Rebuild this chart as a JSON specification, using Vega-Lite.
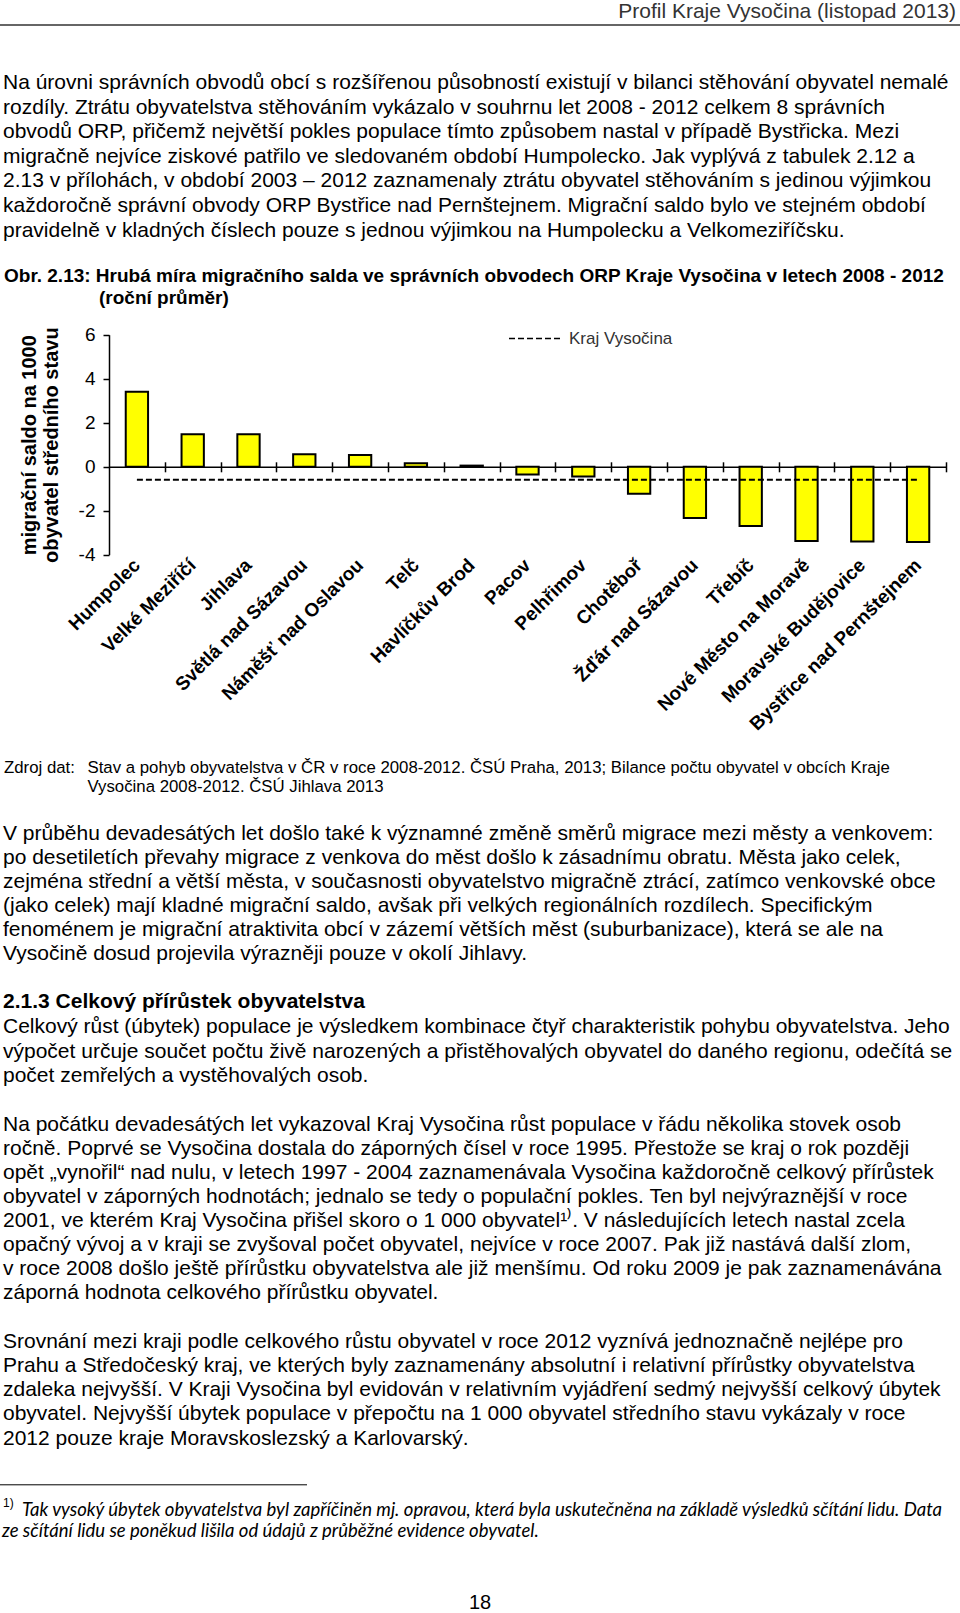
{
  "$schema": "https://vega.github.io/schema/vega-lite/v6.json",
  "width": 960,
  "height": 1613,
  "autosize": "none",
  "padding": 0,
  "background": "white",
  "config": {
    "view": {"stroke": null},
    "font": "Liberation Sans",
    "axis": {"grid": false}
  },
  "datasets": {
    "bars": [
      {"name": "Humpolec", "value": 3.41, "kraj": -0.59},
      {"name": "Velké Meziříčí", "value": 1.48, "kraj": -0.59},
      {"name": "Jihlava", "value": 1.47, "kraj": -0.59},
      {"name": "Světlá nad Sázavou", "value": 0.57, "kraj": -0.59},
      {"name": "Náměšť nad Oslavou", "value": 0.53, "kraj": -0.59},
      {"name": "Telč", "value": 0.16, "kraj": -0.59},
      {"name": "Havlíčkův Brod", "value": 0.05, "kraj": -0.59},
      {"name": "Pacov", "value": -0.36, "kraj": -0.59},
      {"name": "Pelhřimov", "value": -0.45, "kraj": -0.59},
      {"name": "Chotěboř", "value": -1.23, "kraj": -0.59},
      {"name": "Žďár nad Sázavou", "value": -2.33, "kraj": -0.59},
      {"name": "Třebíč", "value": -2.7, "kraj": -0.59},
      {"name": "Nové Město na Moravě", "value": -3.38, "kraj": -0.59},
      {"name": "Moravské Budějovice", "value": -3.4, "kraj": -0.59},
      {"name": "Bystřice nad Pernštejnem", "value": -3.42, "kraj": -0.59}
    ],
    "header": [{"i": 1, "t": "Profil Kraje Vysočina (listopad 2013)"}],
    "para1": [
      {"i": 1, "t": "Na úrovni správních obvodů obcí s rozšířenou působností existují v bilanci stěhování obyvatel nemalé"},
      {"i": 2, "t": "rozdíly. Ztrátu obyvatelstva stěhováním vykázalo v souhrnu let 2008 - 2012 celkem 8 správních"},
      {"i": 3, "t": "obvodů ORP, přičemž největší pokles populace tímto způsobem nastal v případě Bystřicka. Mezi"},
      {"i": 4, "t": "migračně nejvíce ziskové patřilo ve sledovaném období Humpolecko. Jak vyplývá z tabulek 2.12 a"},
      {"i": 5, "t": "2.13 v přílohách, v období 2003 – 2012 zaznamenaly ztrátu obyvatel stěhováním s jedinou výjimkou"},
      {"i": 6, "t": "každoročně správní obvody ORP Bystřice nad Pernštejnem. Migrační saldo bylo ve stejném období"},
      {"i": 7, "t": "pravidelně v kladných číslech pouze s jednou výjimkou na Humpolecku a Velkomeziříčsku."}
    ],
    "cap1": [{"i": 1, "t": "Obr. 2.13: Hrubá míra migračního salda ve správních obvodech ORP Kraje Vysočina v letech 2008 - 2012"}],
    "cap2": [{"i": 1, "t": "(roční průměr)"}],
    "zdroj": [{"i": 1, "t": "Zdroj dat:"}],
    "source": [
      {"i": 1, "t": "Stav a pohyb obyvatelstva v ČR v roce 2008-2012. ČSÚ Praha, 2013; Bilance počtu obyvatel v obcích Kraje"},
      {"i": 2, "t": "Vysočina 2008-2012. ČSÚ Jihlava 2013"}
    ],
    "para2": [
      {"i": 1, "t": "V průběhu devadesátých let došlo také k významné změně směrů migrace mezi městy a venkovem:"},
      {"i": 2, "t": "po desetiletích převahy migrace z venkova do měst došlo k zásadnímu obratu. Města jako celek,"},
      {"i": 3, "t": "zejména střední a větší města, v současnosti obyvatelstvo migračně ztrácí, zatímco venkovské obce"},
      {"i": 4, "t": "(jako celek) mají kladné migrační saldo, avšak při velkých regionálních rozdílech. Specifickým"},
      {"i": 5, "t": "fenoménem je migrační atraktivita obcí v zázemí větších měst (suburbanizace), která se ale na"},
      {"i": 6, "t": "Vysočině dosud projevila výrazněji pouze v okolí Jihlavy."}
    ],
    "heading": [{"i": 1, "t": "2.1.3 Celkový přírůstek obyvatelstva"}],
    "para3": [
      {"i": 1, "t": "Celkový růst (úbytek) populace je výsledkem kombinace čtyř charakteristik pohybu obyvatelstva. Jeho"},
      {"i": 2, "t": "výpočet určuje součet počtu živě narozených a přistěhovalých obyvatel do daného regionu, odečítá se"},
      {"i": 3, "t": "počet zemřelých a vystěhovalých osob."}
    ],
    "para4": [
      {"i": 1, "t": "Na počátku devadesátých let vykazoval Kraj Vysočina růst populace v řádu několika stovek osob"},
      {"i": 2, "t": "ročně. Poprvé se Vysočina dostala do záporných čísel v roce 1995. Přestože se kraj o rok později"},
      {"i": 3, "t": "opět „vynořil“ nad nulu, v letech 1997 - 2004 zaznamenávala Vysočina každoročně celkový přírůstek"},
      {"i": 4, "t": "obyvatel v záporných hodnotách; jednalo se tedy o populační pokles. Ten byl nejvýraznější v roce"},
      {"i": 5, "t": "2001, ve kterém Kraj Vysočina přišel skoro o 1 000 obyvatel¹⁾. V následujících letech nastal zcela"},
      {"i": 6, "t": "opačný vývoj a v kraji se zvyšoval počet obyvatel, nejvíce v roce 2007. Pak již nastává další zlom,"},
      {"i": 7, "t": "v roce 2008 došlo ještě přírůstku obyvatelstva ale již menšímu. Od roku 2009 je pak zaznamenávána"},
      {"i": 8, "t": "záporná hodnota celkového přírůstku obyvatel."}
    ],
    "para5": [
      {"i": 1, "t": "Srovnání mezi kraji podle celkového růstu obyvatel v roce 2012 vyznívá jednoznačně nejlépe pro"},
      {"i": 2, "t": "Prahu a Středočeský kraj, ve kterých byly zaznamenány absolutní i relativní přírůstky obyvatelstva"},
      {"i": 3, "t": "zdaleka nejvyšší. V Kraji Vysočina byl evidován v relativním vyjádření sedmý nejvyšší celkový úbytek"},
      {"i": 4, "t": "obyvatel. Nejvyšší úbytek populace v přepočtu na 1 000 obyvatel středního stavu vykázaly v roce"},
      {"i": 5, "t": "2012 pouze kraje Moravskoslezský a Karlovarský."}
    ],
    "fnsup": [{"i": 1, "t": "1)"}],
    "fn1": [{"i": 1, "t": "Tak vysoký úbytek obyvatelstva byl zapříčiněn mj. opravou, která byla uskutečněna na základě výsledků sčítání lidu. Data"}],
    "fn2": [{"i": 1, "t": "ze sčítání lidu se poněkud lišila od údajů z průběžné evidence obyvatel."}],
    "page": [{"i": 1, "t": "18"}]
  },
  "layer": [
    {
      "data": {"name": "bars"},
      "layer": [
        {
          "mark": {"type": "bar", "fill": "#FFFF00", "stroke": "#000000", "strokeWidth": 2},
          "encoding": {
            "x": {
              "field": "name", "type": "nominal", "sort": null,
              "scale": {"range": [109, 946], "paddingInner": 0.6, "paddingOuter": 0.3},
              "axis": {
                "orient": "bottom", "offset": -1058.3, "title": null,
                "domain": false, "ticks": false,
                "labelAngle": -45, "labelAlign": "right", "labelBaseline": "middle",
                "labelFontSize": 19, "labelFontWeight": "bold", "labelColor": "#000000",
                "labelFont": "Liberation Sans", "labelPadding": 7, "labelLimit": 400,
                "labelOverlap": false
              }
            },
            "y": {
              "field": "value", "type": "quantitative",
              "scale": {"domain": [-4, 6], "range": [554.7, 334.7], "nice": false},
              "axis": {
                "orient": "left", "offset": -109, "values": [-4, -2, 0, 2, 4, 6],
                "labelExpr": "'' + datum.value",
                "domainColor": "#000000", "domainWidth": 1.5,
                "tickColor": "#000000", "tickWidth": 1.5, "tickSize": 6,
                "labelFontSize": 19, "labelColor": "#000000", "labelPadding": 8,
                "labelFont": "Liberation Sans",
                "title": ["migrační saldo na 1000", "obyvatel středního stavu"],
                "titleFontSize": 20, "titleFontWeight": "bold", "titleColor": "#000000",
                "titleFont": "Liberation Sans", "titleLineHeight": 22, "titlePadding": 17
              }
            }
          }
        },
        {
          "mark": {"type": "line", "color": "#000000", "strokeWidth": 2},
          "encoding": {
            "x": {
              "field": "name", "type": "nominal", "sort": null,
              "axis": {
                "orient": "bottom", "offset": -1146.2, "title": null,
                "domain": true, "domainColor": "#000000", "domainWidth": 1.5,
                "ticks": false, "labels": false
              }
            },
            "y": {"field": "kraj", "type": "quantitative"},
            "strokeDash": {
              "datum": "Kraj Vysočina", "type": "nominal",
              "scale": {"range": [[6, 3]]},
              "legend": {
                "orient": "none", "legendX": 508, "legendY": 311, "title": null,
                "symbolType": "stroke", "symbolSize": 2809, "symbolStrokeWidth": 1.5,
                "symbolStrokeColor": "#000000",
                "labelFontSize": 17, "labelColor": "#333333", "labelFont": "Liberation Sans",
                "labelOffset": 6
              }
            }
          }
        },
        {
          "mark": {"type": "bar", "opacity": 0},
          "encoding": {
            "x": {
              "field": "name", "type": "nominal", "sort": null,
              "axis": {
                "orient": "bottom", "offset": -1151.2, "title": null,
                "domain": false, "labels": false,
                "ticks": true, "tickSize": 10, "tickColor": "#000000", "tickWidth": 1.5,
                "tickOffset": 27.9
              }
            },
            "y": {"field": "value", "type": "quantitative"}
          }
        }
      ],
      "resolve": {"axis": {"x": "independent"}}
    },
    {
      "data": {"name": "header"},
      "mark": {"type": "text", "align": "right", "baseline": "middle", "x": 956, "fontSize": 21, "color": "#333333"},
      "encoding": {
        "y": {"field": "i", "type": "ordinal", "scale": {"type": "point", "range": [12, 12], "padding": 0}, "axis": null},
        "text": {"field": "t"}
      }
    },
    {
      "data": {"name": "header"},
      "mark": {"type": "rule", "color": "#333333", "strokeWidth": 1.3},
      "encoding": {
        "y": {"field": "i", "type": "ordinal", "scale": {"type": "point", "range": [25, 25], "padding": 0}, "axis": null}
      }
    },
    {
      "data": {"name": "para1"},
      "mark": {"type": "text", "align": "left", "baseline": "middle", "x": 3, "fontSize": 21, "color": "#000000"},
      "encoding": {
        "y": {"field": "i", "type": "ordinal", "scale": {"type": "point", "range": [83.3, 230.5], "padding": 0}, "axis": null},
        "text": {"field": "t"}
      }
    },
    {
      "data": {"name": "cap1"},
      "mark": {"type": "text", "align": "left", "baseline": "middle", "x": 4, "fontSize": 19, "fontWeight": "bold", "color": "#000000"},
      "encoding": {
        "y": {"field": "i", "type": "ordinal", "scale": {"type": "point", "range": [275.8, 275.8], "padding": 0}, "axis": null},
        "text": {"field": "t"}
      }
    },
    {
      "data": {"name": "cap2"},
      "mark": {"type": "text", "align": "left", "baseline": "middle", "x": 99, "fontSize": 19, "fontWeight": "bold", "color": "#000000"},
      "encoding": {
        "y": {"field": "i", "type": "ordinal", "scale": {"type": "point", "range": [298.4, 298.4], "padding": 0}, "axis": null},
        "text": {"field": "t"}
      }
    },
    {
      "data": {"name": "zdroj"},
      "mark": {"type": "text", "align": "left", "baseline": "middle", "x": 4, "fontSize": 16.8, "color": "#000000"},
      "encoding": {
        "y": {"field": "i", "type": "ordinal", "scale": {"type": "point", "range": [767.6, 767.6], "padding": 0}, "axis": null},
        "text": {"field": "t"}
      }
    },
    {
      "data": {"name": "source"},
      "mark": {"type": "text", "align": "left", "baseline": "middle", "x": 87.5, "fontSize": 16.8, "color": "#000000"},
      "encoding": {
        "y": {"field": "i", "type": "ordinal", "scale": {"type": "point", "range": [767.6, 787.2], "padding": 0}, "axis": null},
        "text": {"field": "t"}
      }
    },
    {
      "data": {"name": "para2"},
      "mark": {"type": "text", "align": "left", "baseline": "middle", "x": 3, "fontSize": 21, "color": "#000000"},
      "encoding": {
        "y": {"field": "i", "type": "ordinal", "scale": {"type": "point", "range": [833.5, 953.9], "padding": 0}, "axis": null},
        "text": {"field": "t"}
      }
    },
    {
      "data": {"name": "heading"},
      "mark": {"type": "text", "align": "left", "baseline": "middle", "x": 3, "fontSize": 21, "fontWeight": "bold", "color": "#000000"},
      "encoding": {
        "y": {"field": "i", "type": "ordinal", "scale": {"type": "point", "range": [1002.2, 1002.2], "padding": 0}, "axis": null},
        "text": {"field": "t"}
      }
    },
    {
      "data": {"name": "para3"},
      "mark": {"type": "text", "align": "left", "baseline": "middle", "x": 3, "fontSize": 21, "color": "#000000"},
      "encoding": {
        "y": {"field": "i", "type": "ordinal", "scale": {"type": "point", "range": [1026.9, 1076.3], "padding": 0}, "axis": null},
        "text": {"field": "t"}
      }
    },
    {
      "data": {"name": "para4"},
      "mark": {"type": "text", "align": "left", "baseline": "middle", "x": 3, "fontSize": 21, "color": "#000000"},
      "encoding": {
        "y": {"field": "i", "type": "ordinal", "scale": {"type": "point", "range": [1124.7, 1293.4], "padding": 0}, "axis": null},
        "text": {"field": "t"}
      }
    },
    {
      "data": {"name": "para5"},
      "mark": {"type": "text", "align": "left", "baseline": "middle", "x": 3, "fontSize": 21, "color": "#000000"},
      "encoding": {
        "y": {"field": "i", "type": "ordinal", "scale": {"type": "point", "range": [1341.8, 1438.5], "padding": 0}, "axis": null},
        "text": {"field": "t"}
      }
    },
    {
      "data": {"name": "fnsup"},
      "mark": {"type": "rule", "color": "#000000", "strokeWidth": 1, "x": 0, "x2": 307},
      "encoding": {
        "y": {"field": "i", "type": "ordinal", "scale": {"type": "point", "range": [1484.8, 1484.8], "padding": 0}, "axis": null}
      }
    },
    {
      "data": {"name": "fnsup"},
      "mark": {"type": "text", "align": "left", "baseline": "middle", "x": 3, "fontSize": 12, "color": "#000000"},
      "encoding": {
        "y": {"field": "i", "type": "ordinal", "scale": {"type": "point", "range": [1503, 1503], "padding": 0}, "axis": null},
        "text": {"field": "t"}
      }
    },
    {
      "data": {"name": "fn1"},
      "mark": {"type": "text", "align": "left", "baseline": "middle", "x": 22, "fontSize": 18.5, "font": "Lato", "fontStyle": "italic", "color": "#000000"},
      "encoding": {
        "y": {"field": "i", "type": "ordinal", "scale": {"type": "point", "range": [1509.5, 1509.5], "padding": 0}, "axis": null},
        "text": {"field": "t"}
      }
    },
    {
      "data": {"name": "fn2"},
      "mark": {"type": "text", "align": "left", "baseline": "middle", "x": 2, "fontSize": 18.5, "font": "Lato", "fontStyle": "italic", "color": "#000000"},
      "encoding": {
        "y": {"field": "i", "type": "ordinal", "scale": {"type": "point", "range": [1531.1, 1531.1], "padding": 0}, "axis": null},
        "text": {"field": "t"}
      }
    },
    {
      "data": {"name": "page"},
      "mark": {"type": "text", "align": "center", "baseline": "middle", "x": 480, "fontSize": 20, "color": "#000000"},
      "encoding": {
        "y": {"field": "i", "type": "ordinal", "scale": {"type": "point", "range": [1603.2, 1603.2], "padding": 0}, "axis": null},
        "text": {"field": "t"}
      }
    }
  ],
  "resolve": {"scale": {"y": "independent"}}
}
